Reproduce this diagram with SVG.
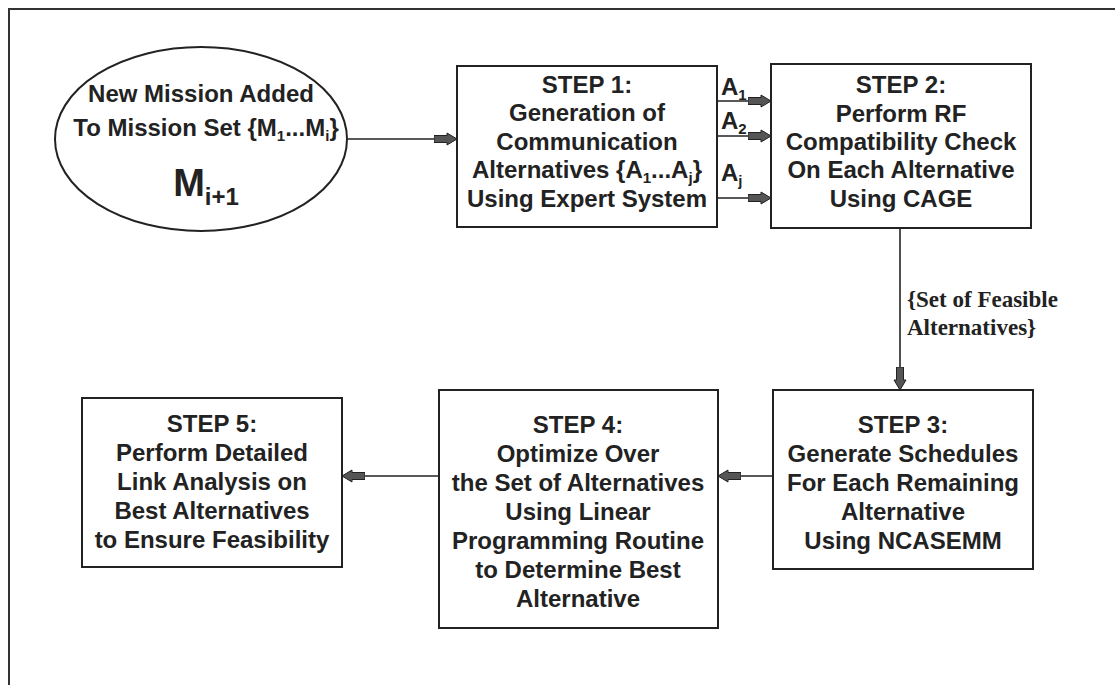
<svg xmlns="http://www.w3.org/2000/svg" width="1115" height="685" viewBox="0 0 1115 685">
<style>
.box{fill:#fff;stroke:#222;stroke-width:2}
.t{font-family:"Liberation Sans",Arial,sans-serif;font-weight:bold;font-size:24px;fill:#222;text-anchor:middle}
.lbl{font-family:"Liberation Sans",Arial,sans-serif;font-weight:bold;font-size:24px;fill:#222}
.ser{font-family:"Liberation Serif","Times New Roman",serif;font-weight:bold;font-size:23px;fill:#222}
.c{fill:none;stroke:#222;stroke-width:1.6}
.frame{fill:none;stroke:#333;stroke-width:2}
.sub{font-size:15px}
</style>
<defs>
<marker id="ah" markerUnits="userSpaceOnUse" markerWidth="24" markerHeight="14" viewBox="0 -7 24 14" refX="23" refY="0" orient="auto">
<path d="M0,-3.5 L13,-3.5 L13,-6 L23,0 L13,6 L13,3.5 L0,3.5 Z" fill="#555" stroke="#222" stroke-width="1"/>
</marker>
</defs>
<rect width="1115" height="685" fill="#fff"/>
<path class="frame" d="M9,685 L9,9 L1115,9"/>

<g id="connectors">
<line class="c" x1="348" y1="139" x2="457" y2="139" marker-end="url(#ah)"/>
<line class="c" x1="717" y1="101" x2="771" y2="101" marker-end="url(#ah)"/>
<line class="c" x1="717" y1="136" x2="771" y2="136" marker-end="url(#ah)"/>
<line class="c" x1="717" y1="198" x2="771" y2="198" marker-end="url(#ah)"/>
<line class="c" x1="900" y1="228" x2="900" y2="390" marker-end="url(#ah)"/>
<line class="c" x1="773" y1="476" x2="718" y2="476" marker-end="url(#ah)"/>
<line class="c" x1="439" y1="476" x2="342" y2="476" marker-end="url(#ah)"/>
<text class="lbl" x="721" y="95">A<tspan class="sub" dy="5">1</tspan></text>
<text class="lbl" x="721" y="129">A<tspan class="sub" dy="5">2</tspan></text>
<text class="lbl" x="721" y="181">A<tspan class="sub" dy="5">j</tspan></text>
<text class="ser" x="907" y="307">{Set of Feasible</text>
<text class="ser" x="907" y="335">Alternatives}</text>
</g>

<g id="mission">
<ellipse cx="201" cy="139" rx="146" ry="92" fill="#fff" stroke="#222" stroke-width="2"/>
<text class="t" x="201" y="102">New Mission Added</text>
<text class="t" x="206" y="136">To Mission Set {M<tspan class="sub" dy="5">1</tspan><tspan dy="-5">...M</tspan><tspan class="sub" dy="5">i</tspan><tspan dy="-5">}</tspan></text>
<text class="t" x="206" y="196" style="font-size:38px">M<tspan style="font-size:24px" dy="9">i+1</tspan></text>
</g>

<g id="step1">
<rect class="box" x="457" y="66" width="260" height="161"/>
<text class="t" x="587" y="93">STEP 1:</text>
<text class="t" x="587" y="121">Generation of</text>
<text class="t" x="587" y="150">Communication</text>
<text class="t" x="587" y="178">Alternatives {A<tspan class="sub" dy="5">1</tspan><tspan dy="-5">...A</tspan><tspan class="sub" dy="5">j</tspan><tspan dy="-5">}</tspan></text>
<text class="t" x="587" y="207">Using Expert System</text>
</g>

<g id="step2">
<rect class="box" x="771" y="64" width="260" height="164"/>
<text class="t" x="901" y="93">STEP 2:</text>
<text class="t" x="901" y="122">Perform RF</text>
<text class="t" x="901" y="150">Compatibility Check</text>
<text class="t" x="901" y="178">On Each Alternative</text>
<text class="t" x="901" y="207">Using CAGE</text>
</g>

<g id="step3">
<rect class="box" x="773" y="390" width="260" height="179"/>
<text class="t" x="903" y="433">STEP 3:</text>
<text class="t" x="903" y="462">Generate Schedules</text>
<text class="t" x="903" y="491">For Each Remaining</text>
<text class="t" x="903" y="520">Alternative</text>
<text class="t" x="903" y="549">Using NCASEMM</text>
</g>

<g id="step4">
<rect class="box" x="439" y="390" width="279" height="238"/>
<text class="t" x="578" y="433">STEP 4:</text>
<text class="t" x="578" y="462">Optimize Over</text>
<text class="t" x="578" y="491">the Set of Alternatives</text>
<text class="t" x="578" y="520">Using Linear</text>
<text class="t" x="578" y="549">Programming Routine</text>
<text class="t" x="578" y="578">to Determine Best</text>
<text class="t" x="578" y="607">Alternative</text>
</g>

<g id="step5">
<rect class="box" x="82" y="398" width="260" height="169"/>
<text class="t" x="212" y="432">STEP 5:</text>
<text class="t" x="212" y="461">Perform Detailed</text>
<text class="t" x="212" y="490">Link Analysis on</text>
<text class="t" x="212" y="519">Best Alternatives</text>
<text class="t" x="212" y="548">to Ensure Feasibility</text>
</g>
</svg>
